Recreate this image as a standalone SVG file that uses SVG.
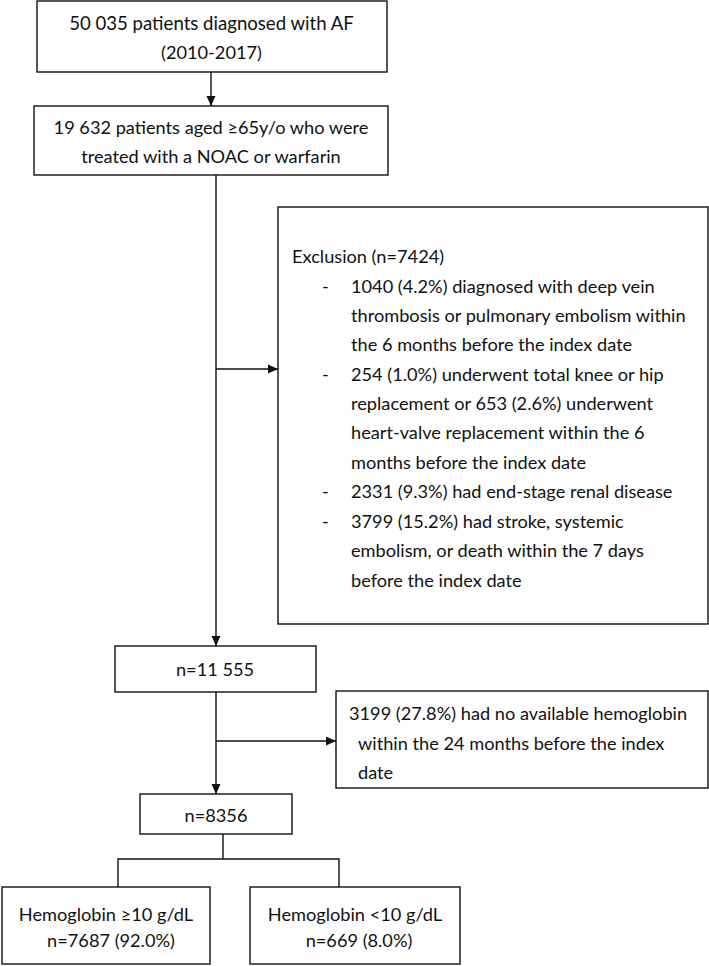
<svg xmlns="http://www.w3.org/2000/svg" width="709" height="966" viewBox="0 0 709 966">
<style>
.box{fill:#fff;stroke:#111;stroke-width:1.4}
.ln{fill:none;stroke:#111;stroke-width:1.4}
text{font-family:Lato,"Open Sans","Liberation Sans",sans-serif;font-size:18.2px;fill:#111}
.c{text-anchor:middle}
</style>
<defs>
<marker id="ah" markerWidth="10" markerHeight="10" viewBox="0 0 10 10" refX="10" refY="5" orient="auto" markerUnits="userSpaceOnUse">
<path d="M0,0.5 L10,5 L0,9.5 Z" fill="#111"/>
</marker>
</defs>
<rect width="709" height="966" fill="#fff"/>
<g id="connectors">
<line class="ln" x1="211" y1="72" x2="211" y2="106" marker-end="url(#ah)"/>
<line class="ln" x1="216" y1="175" x2="216" y2="646" marker-end="url(#ah)"/>
<line class="ln" x1="216" y1="369" x2="278" y2="369" marker-end="url(#ah)"/>
<line class="ln" x1="216" y1="692" x2="216" y2="794" marker-end="url(#ah)"/>
<line class="ln" x1="216" y1="741" x2="336" y2="741" marker-end="url(#ah)"/>
<polyline class="ln" points="223,834 223,859"/>
<polyline class="ln" points="118,887 118,859 339,859 339,887"/>
</g>
<g id="n1">
<rect class="box" x="37" y="1" width="350" height="71"/>
<text class="c" x="211.5" y="30" style="font-size:18.6px">50 035 patients diagnosed with AF</text>
<text class="c" x="211.5" y="59">(2010-2017)</text>
</g>
<g id="n2">
<rect class="box" x="34" y="106" width="354" height="69"/>
<text class="c" x="211" y="134">19 632 patients aged ≥65y/o who were</text>
<text class="c" x="211" y="163">treated with a NOAC or warfarin</text>
</g>
<g id="n3">
<rect class="box" x="278" y="207" width="430" height="417"/>
<text x="292" y="263">Exclusion (n=7424)</text>
<text x="322" y="293">-</text>
<text x="351" y="293">1040 (4.2%) diagnosed with deep vein</text>
<text x="351" y="322">thrombosis or pulmonary embolism within</text>
<text x="351" y="351">the 6 months before the index date</text>
<text x="322" y="381">-</text>
<text x="351" y="381">254 (1.0%) underwent total knee or hip</text>
<text x="351" y="410">replacement or 653 (2.6%) underwent</text>
<text x="351" y="439">heart-valve replacement within the 6</text>
<text x="351" y="469">months before the index date</text>
<text x="322" y="498">-</text>
<text x="351" y="498">2331 (9.3%) had end-stage renal disease</text>
<text x="322" y="528">-</text>
<text x="351" y="528">3799 (15.2%) had stroke, systemic</text>
<text x="351" y="557">embolism, or death within the 7 days</text>
<text x="351" y="587">before the index date</text>
</g>
<g id="n4">
<rect class="box" x="115" y="646" width="201" height="46"/>
<text class="c" x="215" y="676">n=11 555</text>
</g>
<g id="n5">
<rect class="box" x="336" y="691" width="372" height="97"/>
<text x="349" y="720">3199 (27.8%) had no available hemoglobin</text>
<text x="358" y="750">within the 24 months before the index</text>
<text x="358" y="779">date</text>
</g>
<g id="n6">
<rect class="box" x="140" y="794" width="152" height="40"/>
<text class="c" x="216" y="822">n=8356</text>
</g>
<g id="n7">
<rect class="box" x="2" y="887" width="208" height="77"/>
<text class="c" x="106" y="921">Hemoglobin ≥10 g/dL</text>
<text class="c" x="111" y="947">n=7687 (92.0%)</text>
</g>
<g id="n8">
<rect class="box" x="250" y="887" width="210" height="77"/>
<text class="c" x="355" y="921">Hemoglobin &lt;10 g/dL</text>
<text class="c" x="359" y="947">n=669 (8.0%)</text>
</g>
</svg>
